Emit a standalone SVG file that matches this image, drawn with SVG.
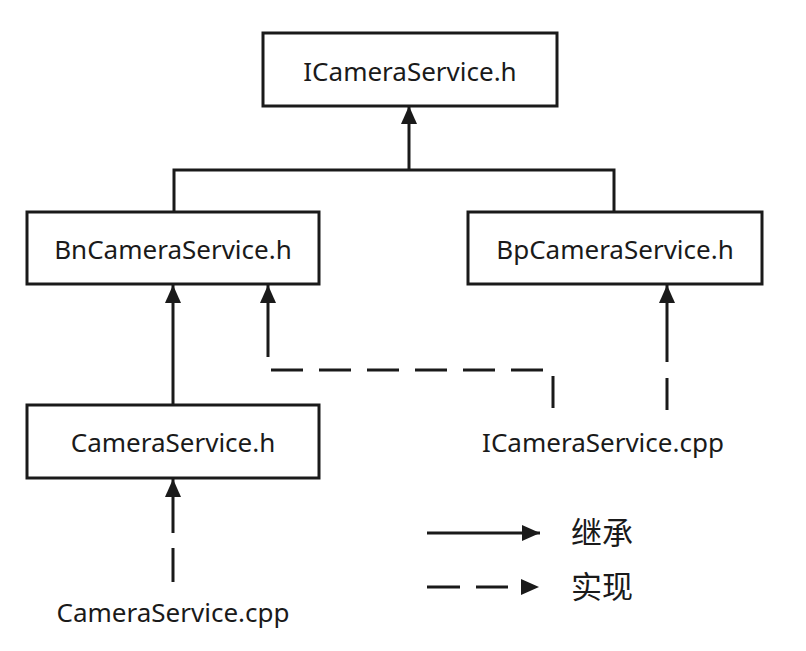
<svg xmlns="http://www.w3.org/2000/svg" width="806" height="651" viewBox="0 0 806 651">
  <style>
    .box { fill: #ffffff; stroke: #1a1a1a; stroke-width: 3; }
    .lbl { font-family: "Noto Sans", "Noto Sans CJK SC", sans-serif; font-size: 26px; fill: #1a1a1a; text-anchor: middle; }
    .leg { font-family: "Noto Sans CJK SC", "Noto Sans", sans-serif; font-size: 31px; fill: #1a1a1a; }
    .ln { fill: none; stroke: #1a1a1a; stroke-width: 3; }
  </style>
  <defs>
    <marker id="arr" markerUnits="userSpaceOnUse" markerWidth="18" markerHeight="18" viewBox="0 0 18 18" refX="18" refY="9" orient="auto">
      <path d="M0,1 L18,9 L0,17 z" fill="#1a1a1a"/>
    </marker>
  </defs>
  <rect width="806" height="651" fill="#ffffff"/>

  <g id="connectors">
    <path class="ln" d="M174,212 L174,170 L614,170 L614,212"/>
    <path class="ln" d="M409,170 L409,106" marker-end="url(#arr)"/>
    <path class="ln" d="M173,405 L173,285" marker-end="url(#arr)"/>
    <path class="ln" d="M553,408 L553,370 L268,370 L268,285" stroke-dasharray="32 16 32 16 32 16 32 16 32 16 32 16 32 16 200" marker-end="url(#arr)"/>
    <path class="ln" d="M667,410 L667,285" stroke-dasharray="32 16 200" marker-end="url(#arr)"/>
    <path class="ln" d="M173,582 L173,479" stroke-dasharray="34 15 200" marker-end="url(#arr)"/>
  </g>

  <g id="node-icamera-h">
    <rect class="box" x="263" y="33" width="294" height="73"/>
    <text class="lbl" x="410" y="81">ICameraService.h</text>
  </g>
  <g id="node-bn">
    <rect class="box" x="27" y="212" width="292" height="72"/>
    <text class="lbl" x="173" y="259">BnCameraService.h</text>
  </g>
  <g id="node-bp">
    <rect class="box" x="468" y="212" width="294" height="72"/>
    <text class="lbl" x="615" y="259">BpCameraService.h</text>
  </g>
  <g id="node-camera-h">
    <rect class="box" x="27" y="405" width="292" height="73"/>
    <text class="lbl" x="173" y="452">CameraService.h</text>
  </g>
  <g id="node-icamera-cpp">
    <text class="lbl" x="603" y="452">ICameraService.cpp</text>
  </g>
  <g id="node-camera-cpp">
    <text class="lbl" x="173" y="622">CameraService.cpp</text>
  </g>

  <g id="legend">
    <path class="ln" d="M427,533 L540,533" marker-end="url(#arr)"/>
    <path class="ln" d="M427,587 L539,587" stroke-dasharray="33 16 32 40" marker-end="url(#arr)"/>
    <text class="leg" x="571" y="544">继承</text>
    <text class="leg" x="571" y="598">实现</text>
  </g>
</svg>
